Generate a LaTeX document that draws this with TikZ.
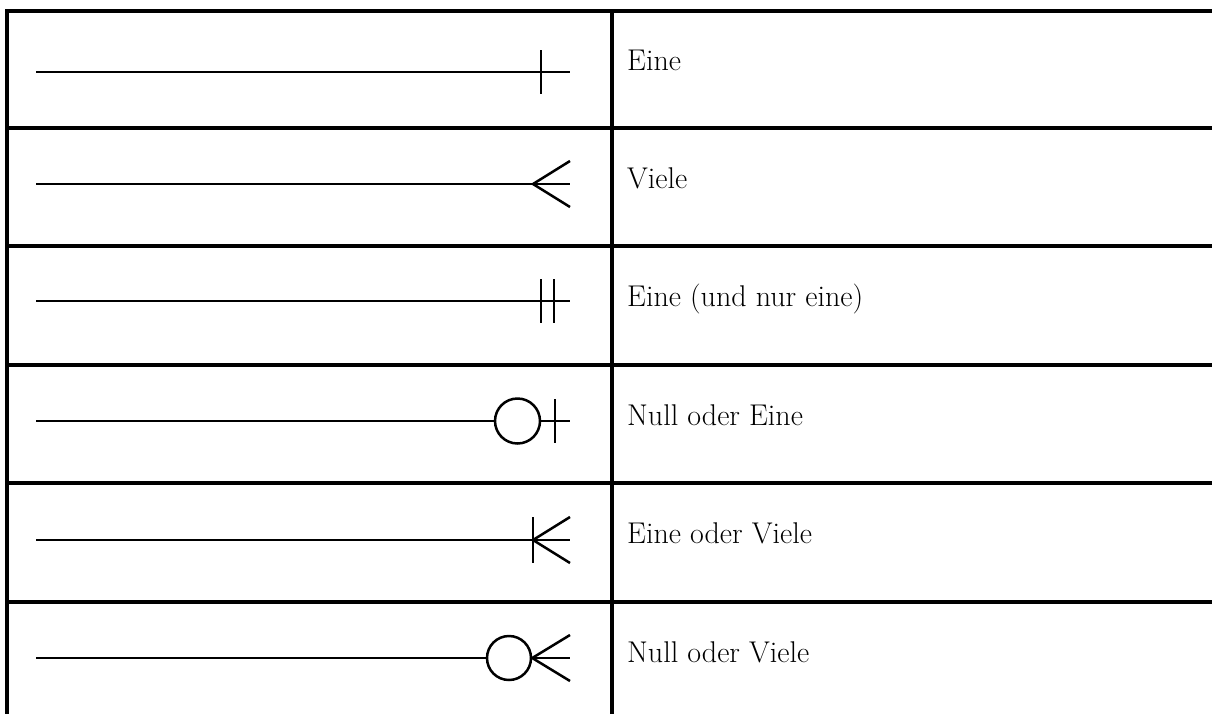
\documentclass[tikz,border=0pt]{standalone}
\usepackage{fontspec}
\setmainfont{Latin Modern Roman}
\begin{document}
\begin{tikzpicture}[x=1pt,y=-1pt,
  grid/.style={line width=3.5pt,line cap=rect},
  sym/.style={line width=2.5pt},
  lbl/.style={anchor=base west,inner sep=0pt,font=\fontsize{30}{36}\selectfont}]
\useasboundingbox (0,0) rectangle (1212,713);
% table
\draw[grid] (7,11) -- (1214,11);
\foreach \yy in {128,246,365,483,602} \draw[grid] (7,\yy) -- (1214,\yy);
\draw[grid] (7,11) -- (7,715);
\draw[grid] (612,11) -- (612,715);
% row 1: Eine
\coordinate (a1) at (36,72); \coordinate (b1) at (570,72);
\draw[sym] (a1) -- (b1);
\draw[sym] (541,50) -- (541,94);
\node[lbl] (t1) at (627,70) {Eine};
% row 2: Viele
\coordinate (a2) at (36,184); \coordinate (b2) at (570,184); \coordinate (c2) at (533,184);
\draw[sym] (a2) -- (b2);
\draw[sym] (570,161) -- (c2) -- (570,207);
\node[lbl] (t2) at (627,188) {Viele};
% row 3: Eine (und nur eine)
\coordinate (a3) at (36,301); \coordinate (b3) at (570,301);
\draw[sym] (a3) -- (b3);
\draw[sym] (541,279) -- (541,323);
\draw[sym] (554,279) -- (554,323);
\node[lbl] (t3) at (627,306) {Eine (und nur eine)};
% row 4: Null oder Eine
\coordinate (a4) at (36,421); \coordinate (b4) at (570,421);
\node[circle,draw,line width=2.5pt,minimum size=45pt,inner sep=0pt] (o4) at (517.5,421) {};
\draw[sym] (a4) -- (o4.west);
\draw[sym] (o4.east) -- (b4);
\draw[sym] (555,399) -- (555,443);
\node[lbl] (t4) at (627,425) {Null oder Eine};
% row 5: Eine oder Viele
\coordinate (a5) at (36,540); \coordinate (b5) at (570,540); \coordinate (c5) at (533,540);
\draw[sym] (a5) -- (b5);
\draw[sym] (533,517) -- (533,563);
\draw[sym] (570,517) -- (c5) -- (570,563);
\node[lbl] (t5) at (627,543) {Eine oder Viele};
% row 6: Null oder Viele
\coordinate (a6) at (36,658); \coordinate (b6) at (570,658);
\node[circle,draw,line width=2.5pt,minimum size=44pt,inner sep=0pt] (o6) at (509,658) {};
\draw[sym] (a6) -- (o6.west);
\draw[sym] (o6.east) -- (b6);
\draw[sym] (570,635) -- (o6.east) -- (570,681);
\node[lbl] (t6) at (627,662) {Null oder Viele};
\end{tikzpicture}
\end{document}
